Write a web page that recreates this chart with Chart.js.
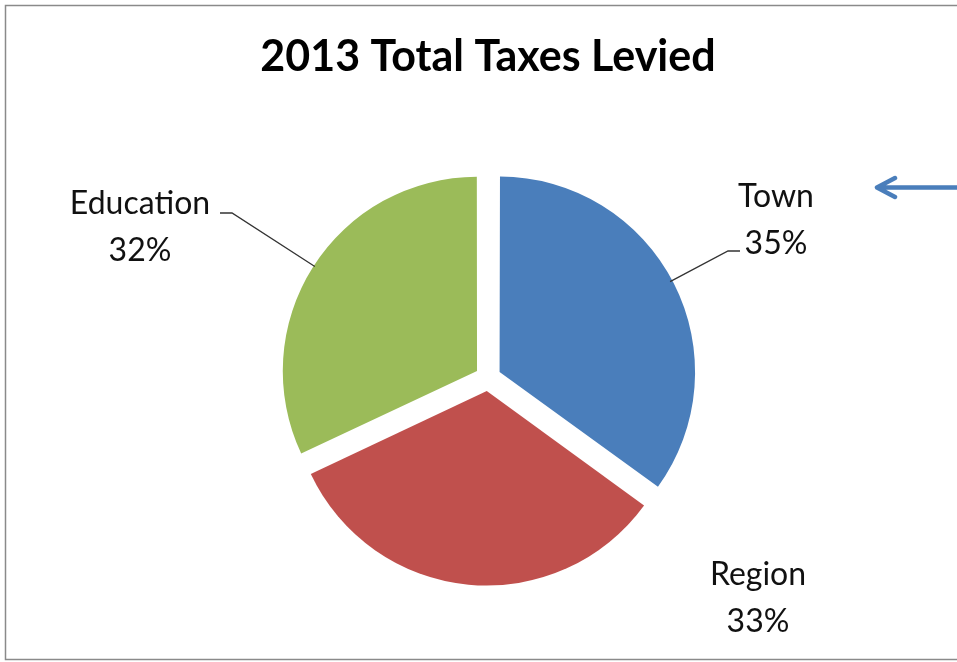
<!DOCTYPE html>
<html>
<head>
<meta charset="utf-8">
<title>2013 Total Taxes Levied</title>
<script src="https://cdn.jsdelivr.net/npm/chart.js@4"></script>
<style>
  html, body { margin: 0; padding: 0; background: #fff; }
  #wrap { width: 957px; height: 662px; }
</style>
</head>
<body>
<div id="wrap"><canvas id="canvas" width="957" height="662"></canvas></div>
<script>
const categories = ['Town', 'Region', 'Education'];
const levied = [35, 33, 32];
const sliceColors = ['#4a7ebb', '#c0504d', '#9bbb59'];

// where each data label sits (text centre, first line baseline) and its leader elbow
const labelPlacement = [
	{ x: 776, y: 207, elbow: { from: 740, to: 728, y: 251 } },
	{ x: 758, y: 585, elbow: null },
	{ x: 140, y: 214, elbow: { from: 220, to: 232, y: 213 } },
];

const FONT = 'Lato, "Open Sans", sans-serif';

const frame = {
	id: 'frame',
	beforeDraw(chart) {
		const { ctx, width, height } = chart;
		ctx.save();
		ctx.fillStyle = '#fff';
		ctx.fillRect(0, 0, width, height);
		ctx.strokeStyle = '#8a8a8a';
		ctx.lineWidth = 1.5;
		ctx.beginPath();
		ctx.moveTo(width, 5.5);
		ctx.lineTo(5.5, 5.5);
		ctx.lineTo(5.5, 659.5);
		ctx.lineTo(width, 659.5);
		ctx.stroke();

		ctx.fillStyle = '#000';
		ctx.font = 'bold 43px ' + FONT;
		ctx.textAlign = 'center';
		ctx.textBaseline = 'alphabetic';
		ctx.fillText('2013 Total Taxes Levied', 488, 71);
		ctx.restore();
	}
};

const sliceLabels = {
	id: 'sliceLabels',
	afterDatasetsDraw(chart) {
		const { ctx } = chart;
		const meta = chart.getDatasetMeta(0);
		const total = levied.reduce((a, b) => a + b, 0);

		ctx.save();
		meta.data.forEach((arc, i) => {
			const p = arc.getProps(['x', 'y', 'startAngle', 'endAngle', 'outerRadius'], true);
			const shift = (arc.options.offset || 0) / 4;
			const mid = (p.startAngle + p.endAngle) / 2;
			const cx = p.x + Math.cos(mid) * shift;
			const cy = p.y + Math.sin(mid) * shift;
			const place = labelPlacement[i];

			if (place.elbow) {
				const e = place.elbow;
				const ang = Math.atan2(e.y - cy, e.to - cx);
				ctx.strokeStyle = '#333';
				ctx.lineWidth = 1.3;
				ctx.beginPath();
				ctx.moveTo(e.from, e.y);
				ctx.lineTo(e.to, e.y);
				ctx.lineTo(cx + Math.cos(ang) * p.outerRadius, cy + Math.sin(ang) * p.outerRadius);
				ctx.stroke();
			}

			ctx.fillStyle = '#111';
			ctx.font = '32px ' + FONT;
			ctx.textAlign = 'center';
			ctx.fillText(categories[i], place.x, place.y);
			ctx.fillText(Math.round(levied[i] / total * 100) + '%', place.x, place.y + 47);
		});

		// pointer arrow on the right edge
		ctx.strokeStyle = '#4a7ebb';
		ctx.lineWidth = 4.5;
		ctx.lineCap = 'round';
		ctx.lineJoin = 'round';
		ctx.beginPath();
		ctx.moveTo(chart.width + 2, 187.5);
		ctx.lineTo(877, 187.5);
		ctx.moveTo(895, 178);
		ctx.lineTo(877, 187.5);
		ctx.lineTo(895, 197);
		ctx.stroke();
		ctx.restore();
	}
};

new Chart(document.getElementById('canvas'), {
	type: 'pie',
	data: {
		labels: categories,
		datasets: [{
			data: levied,
			backgroundColor: sliceColors,
			borderWidth: 0,
			offset: 52,
		}]
	},
	options: {
		responsive: false,
		animation: false,
		events: [],
		radius: 193,
		layout: {
			padding: { left: 40, right: 21, top: 98, bottom: 4 }
		},
		plugins: {
			legend: { display: false },
			title: { display: false },
			tooltip: { enabled: false },
		},
	},
	plugins: [frame, sliceLabels],
});
</script>
</body>
</html>
